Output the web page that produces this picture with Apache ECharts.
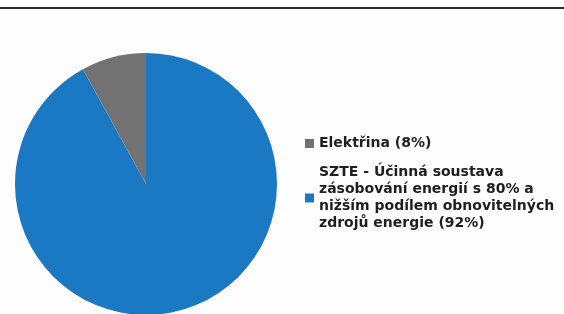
<!DOCTYPE html>
<html>
<head>
<meta charset="utf-8">
<script src="https://cdn.jsdelivr.net/npm/echarts@6/dist/echarts.min.js"></script>
<style>
  html, body { margin: 0; padding: 0; background: #fff; }
  #main { width: 564px; height: 314px; }
</style>
</head>
<body>
<div id="main"></div>
<script>
var names = ['SZTE - Účinná soustava\nzásobování energií s 80% a\nnižším podílem obnovitelných\nzdrojů energie (92%)', 'Elektřina (8%)'];
var values = [92, 8];
var colors = ['#1b78c2', '#727272'];
var legendOrder = [names[1], names[0]];

var myChart = echarts.init(document.getElementById('main'));

var option = {
    animation: false,
    backgroundColor: '#fdfdfd',
    color: colors,
    legend: {
        orient: 'vertical',
        left: 305,
        top: 135,
        padding: 0,
        data: legendOrder,
        itemWidth: 9,
        itemHeight: 9,
        itemGap: 12,
        icon: 'rect',
        textStyle: {
            fontFamily: 'DejaVu Sans',
            fontWeight: 'bold',
            fontSize: 14,
            lineHeight: 17,
            color: '#1e1e1e'
        }
    },
    graphic: [
        {
            type: 'rect',
            shape: { x: 0, y: 7, width: 564, height: 2 },
            style: { fill: '#2a2a2a' }
        }
    ],
    series: [
        {
            type: 'pie',
            center: [146, 184],
            radius: 131,
            startAngle: 90,
            clockwise: true,
            silent: true,
            label: { show: false },
            labelLine: { show: false },
            data: names.map(function (n, i) {
                return { name: n, value: values[i] };
            })
        }
    ]
};
myChart.setOption(option);
</script>
</body>
</html>
